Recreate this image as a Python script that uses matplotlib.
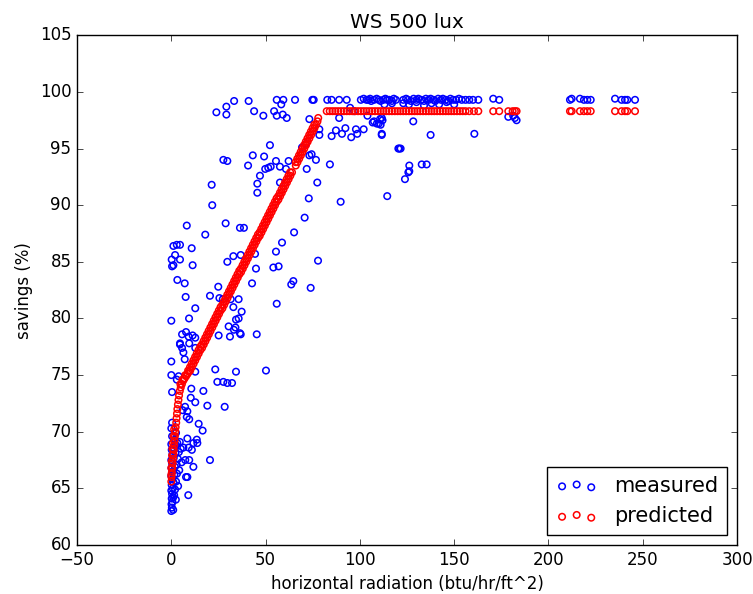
#!/usr/bin/env python3
# WS 500 lux: measured vs predicted savings

import matplotlib
matplotlib.use("Agg")
import matplotlib.pyplot as plt
import numpy as np

# measured points (radiation, savings %)
meas_x = [
    0.0, 0.3, 0.1, 0.6, 0.2, 1.0, 0.4, 1.5, 0.0, 0.8, 2.0, 0.2, 1.2, 0.5, 2.5, 0.0, 1.6, 0.7, 3.0, 0.1,
    1.9, 0.4, 2.8, 0.0, 1.3, 3.5, 0.6, 2.2, 0.2, 4.0, 1.1, 0.0, 2.6, 5.0, 3.2, 1.8, 4.5, 0.4, 2.4, 3.6,
    4.2, 5.5, 1.0,
    9.0, 7.8, 8.5, 11.7, 20.5, 7.4, 9.5, 6.4, 9.2, 10.9, 8.5, 13.5, 11.7, 13.8, 0.4, 0.0, 2.5, 14.5, 16.6,
    7.3, 8.5, 8.2, 9.5, 6.0, 10.6, 17.0, 10.3, 12.7, 19.1, 28.3, 0.4, 0.0, 2.9, 3.9, 12.7, 23.3, 34.3,
    50.2, 24.4, 27.6, 29.7, 32.2, 0.0, 5.7, 7.8, 9.2, 11.3, 12.7, 4.6, 5.7, 6.4, 7.1, 4.6, 9.5, 12.7,
    0.0, 9.4, 12.7, 7.6, 3.2, 7.1, 20.5, 24.9, 25.5, 27.3, 31.5, 35.7, 32.9, 37.3, 34.3, 35.7, 30.4,
    33.2, 36.4, 31.1, 36.8, 45.3, 25.1, 34.0, 42.8, 55.9, 73.9, 64.7, 63.6, 77.8, 54.1, 56.9, 44.4,
    44.9, 32.9, 36.8, 29.7, 55.5, 58.7, 2.0, 0.2, 4.6, 0.4, 1.1, 11.3, 10.8, 1.1, 2.9, 4.6, 18.0, 65.1,
    8.2, 28.8, 36.4, 38.5, 70.7, 72.9, 89.8, 114.5, 21.4, 21.7, 77.4, 45.6, 45.6, 47.0, 57.6,
    33.3, 29.2, 23.9, 29.2, 41.0, 43.9, 48.8, 55.9, 59.4, 58.3, 54.5, 55.9, 59.1, 61.2, 65.6, 74.8,
    75.5, 73.2, 82.7, 85.0, 89.0, 93.0, 94.8, 96.9, 89.0, 87.3, 90.5, 92.3, 95.4, 98.6, 97.9, 85.0,
    78.5, 78.5, 106.8, 110.7, 110.0, 111.6, 120.4, 52.3, 27.6, 29.7, 43.2, 49.2, 40.7, 55.5, 62.2,
    52.7, 49.8, 51.4, 57.6, 60.8, 71.4, 69.3, 73.2, 76.7, 71.8, 74.4, 84.1,
    100.5, 102.0, 103.5, 104.5, 105.4, 106.0, 107.5, 108.9, 110.0, 111.0, 112.4, 113.5, 114.5, 115.6,
    117.0, 118.0, 119.1, 123.0, 124.5, 125.5, 127.0, 128.5, 130.0, 131.0, 132.5, 134.0, 135.0, 136.5,
    137.5, 139.0, 140.0, 141.5, 143.0, 144.0, 145.5, 147.0, 148.0, 149.5, 151.0, 152.5, 154.0, 156.0,
    158.0, 160.0, 162.8, 170.7, 173.9, 211.4, 212.3, 216.7, 218.8, 220.6, 222.4, 235.3, 238.8, 240.6,
    241.8, 245.9,
    123.0, 126.0, 130.0, 134.0, 138.0, 142.0, 146.0, 150.0, 113.0, 117.0,
    111.6, 111.0, 111.6, 128.3, 137.5, 160.7, 120.9, 121.6, 126.2, 126.2, 125.7, 123.9, 132.8, 135.4,
    178.7, 181.3, 182.2, 183.1, 107.5, 109.0, 112.0, 102.0, 104.0,
]
meas_y = [
    63.0, 63.3, 63.6, 63.8, 64.1, 64.2, 64.5, 64.4, 64.8, 65.0, 64.9, 65.3, 65.5, 65.8, 65.6, 66.1, 66.2,
    66.5, 66.3, 66.8, 66.9, 67.2, 67.1, 67.5, 67.7, 67.6, 68.0, 68.1, 68.4, 68.2, 68.6, 68.9, 68.8, 68.5,
    69.0, 69.3, 69.1, 69.6, 64.0, 65.2, 66.6, 67.3, 63.1,
    64.4, 66.0, 66.0, 66.9, 67.5, 67.5, 67.5, 68.6, 68.6, 68.4, 69.4, 69.3, 69.0, 69.0, 70.8, 70.3, 69.9,
    70.7, 70.1, 72.2, 71.8, 71.3, 71.1, 71.9, 73.8, 73.6, 73.0, 72.6, 72.3, 72.2, 73.5, 75.0, 74.6, 74.9,
    75.3, 75.5, 75.3, 75.4, 74.4, 74.4, 74.3, 74.3, 76.2, 78.6, 78.8, 78.4, 78.5, 78.3, 77.7, 77.4, 77.0,
    76.4, 77.8, 77.8, 77.4, 79.8, 80.0, 80.9, 81.9, 83.4, 83.1, 82.0, 82.8, 81.8, 81.7, 81.7, 81.7, 81.0,
    80.6, 79.9, 80.0, 79.3, 79.0, 78.7, 78.4, 78.6, 78.6, 78.5, 79.2, 83.1, 81.3, 82.7, 83.3, 83.0, 85.1,
    84.5, 84.6, 85.7, 84.4, 85.5, 85.6, 85.0, 85.9, 86.7, 85.6, 85.2, 85.2, 84.6, 84.7, 84.7, 86.2, 86.4,
    86.5, 86.5, 87.4, 87.6, 88.2, 88.4, 88.0, 88.0, 88.9, 90.6, 90.3, 90.8, 91.8, 90.0, 92.0, 91.9, 91.1,
    92.6, 92.0,
    99.2, 98.7, 98.2, 98.0, 99.2, 98.3, 97.9, 99.3, 99.3, 98.9, 98.3, 97.9, 98.0, 97.7, 99.3, 99.3, 99.3,
    97.6, 99.3, 99.3, 99.3, 99.3, 98.6, 98.3, 97.7, 96.6, 96.3, 96.8, 96.0, 96.3, 96.7, 96.1, 96.7, 96.2,
    97.3, 97.6, 97.2, 96.3, 95.0, 95.3, 94.0, 93.9, 94.4, 94.3, 93.5, 93.9, 93.9, 93.4, 93.2, 93.3, 93.4,
    93.2, 95.4, 95.1, 94.4, 94.0, 93.2, 94.5, 93.6,
    99.3, 99.4, 99.3, 99.3, 99.4, 99.2, 99.3, 99.4, 99.3, 99.2, 99.3, 99.4, 99.3, 99.3,
    99.2, 99.4, 99.3, 99.3, 99.4, 99.3, 99.2, 99.4, 99.3, 99.4, 99.3, 99.2, 99.4, 99.3,
    99.4, 99.3, 99.2, 99.4, 99.3, 99.4, 99.3, 99.2, 99.4, 99.3, 99.3, 99.4, 99.3, 99.3,
    99.3, 99.3, 99.3, 99.4, 99.3, 99.3, 99.4, 99.4, 99.3, 99.3, 99.3, 99.4, 99.3, 99.3,
    99.3, 99.3,
    99.0, 98.9, 99.1, 98.8, 99.0, 98.9, 99.1, 98.9, 98.9, 99.0,
    97.7, 97.1, 96.2, 97.4, 96.2, 96.3, 95.0, 95.0, 93.5, 93.0, 92.9, 92.3, 93.6, 93.6,
    97.8, 97.9, 97.7, 97.5, 97.4, 97.2, 97.5, 96.7, 97.9,
]

# predicted: rising part (two interleaved runs) and the flat part
pred_curve_x = [
    0.0, 0.1, 0.3, 0.5, 0.7, 0.9, 1.1, 1.3, 1.5, 1.7, 1.9, 2.1, 2.3, 2.6, 2.8, 3.0, 3.2, 3.5, 3.8, 4.1,
    4.5, 5.0, 5.6, 6.3, 7.0, 7.8, 8.6, 9.3,
    10.0, 10.9, 11.8, 12.7, 13.6, 14.5, 15.4, 16.3, 17.2, 18.1, 19.0, 19.9, 20.8, 21.7, 22.6, 23.5,
    24.4, 25.3, 26.2, 27.1, 28.0, 28.9, 29.8, 30.7, 31.6, 32.5, 33.4, 34.3, 35.2, 36.1, 37.0, 37.9,
    38.8, 39.7, 40.6, 41.5, 42.4, 43.3, 44.2, 45.1, 46.0, 46.9, 47.8, 48.7, 49.6, 50.5, 51.4, 52.3,
    53.2, 54.1, 55.0, 55.9, 56.8, 57.7, 58.6, 59.5, 60.4, 61.3, 62.2, 63.1, 64.0,
    66.0, 66.9, 67.8, 68.7, 69.6, 70.5, 71.4, 72.3, 73.2, 74.1, 75.0, 75.9, 76.8, 77.5, 77.9,
]
pred_curve_y = [
    65.6, 66.0, 66.4, 66.8, 67.2, 67.6, 68.0, 68.4, 68.8, 69.2, 69.6, 70.0, 70.4, 70.8, 71.2, 71.6, 72.0,
    72.4, 72.8, 73.2, 73.6, 73.9, 74.2, 74.5, 74.7, 74.9, 75.1, 75.3,
    75.4, 75.7, 76.0, 76.3, 76.6, 76.9, 77.2, 77.4, 77.7, 78.0, 78.3, 78.6, 78.9, 79.2, 79.5, 79.8,
    80.1, 80.4, 80.7, 80.9, 81.2, 81.5, 81.8, 82.1, 82.4, 82.7, 83.0, 83.3, 83.6, 83.9, 84.1, 84.4,
    84.7, 85.0, 85.3, 85.6, 85.9, 86.2, 86.5, 86.8, 87.1, 87.3, 87.6, 87.9, 88.2, 88.5, 88.8, 89.1,
    89.4, 89.7, 90.0, 90.3, 90.5, 90.8, 91.1, 91.4, 91.7, 92.0, 92.3, 92.6, 92.9,
    93.5, 93.8, 94.1, 94.4, 94.7, 95.0, 95.3, 95.6, 95.9, 96.2, 96.5, 96.8, 97.1, 97.4, 97.7,
]
pred_mid_x = [
    0.0, 0.0, 0.2, 0.4, 0.6, 0.9, 1.2, 1.5, 4.8, 5.9, 7.4, 8.9,
    9.9, 10.8, 11.7, 12.6, 13.5, 14.4, 15.3, 16.2, 17.1, 18.0, 18.9, 19.8, 20.7, 21.6, 22.5, 23.4,
    24.3, 25.2, 26.1, 27.0, 27.9, 28.8, 29.7, 30.6, 31.5, 32.4, 33.3, 34.2, 35.1, 36.0, 36.9, 37.8,
    38.7, 39.6, 40.5, 41.4, 42.3, 43.2, 44.1, 45.0, 45.9, 46.8, 47.7, 48.6, 49.5, 50.4, 51.3, 52.2,
    53.1, 54.0, 54.9, 55.8, 56.7, 57.6, 58.5, 59.4, 60.3, 61.2, 62.1, 63.0,
    65.9, 66.8, 67.7, 68.6, 69.5, 70.4, 71.3, 72.2, 73.1, 74.0, 74.9, 75.8,
]
pred_mid_y = [
    66.2, 66.8, 67.4, 67.9, 68.5, 69.0, 69.6, 70.2, 74.2, 74.6, 75.0, 75.4,
    75.7, 76.0, 76.3, 76.6, 76.9, 77.2, 77.5, 77.7, 78.0, 78.3, 78.6, 78.9, 79.2, 79.5, 79.8, 80.1,
    80.4, 80.7, 81.0, 81.2, 81.5, 81.8, 82.1, 82.4, 82.7, 83.0, 83.3, 83.6, 83.9, 84.2, 84.4, 84.7,
    85.0, 85.3, 85.6, 85.9, 86.2, 86.5, 86.8, 87.1, 87.4, 87.6, 87.9, 88.2, 88.5, 88.8, 89.1, 89.4,
    89.7, 90.0, 90.3, 90.6, 90.8, 91.1, 91.4, 91.7, 92.0, 92.3, 92.6, 92.9,
    93.8, 94.1, 94.4, 94.7, 95.0, 95.3, 95.6, 95.9, 96.2, 96.5, 96.8, 97.1,
]
pred_flat_x = [
    82.4, 84.0, 85.5, 87.0, 88.5, 90.0, 91.5, 93.0, 94.5, 96.0, 97.5, 99.0, 100.5, 102.0, 103.5, 105.0,
    106.5, 108.0, 109.5, 111.0, 112.5, 114.0, 115.5, 117.0, 118.5, 120.0, 121.5, 123.0, 124.5, 126.0,
    127.5, 129.0, 130.5, 132.0, 133.5, 135.0, 136.5, 138.0, 139.5, 141.0, 142.5, 144.0, 145.5, 147.0,
    148.5, 150.0, 151.5, 153.0, 154.5, 156.0, 158.0, 160.5, 162.8, 170.7, 173.9, 178.7, 181.0, 182.2,
    183.1, 211.4, 212.3, 216.7, 218.8, 220.6, 222.4, 235.3, 238.8, 240.6, 241.8, 245.9,
]
pred_flat_level = 98.3

pred_x = pred_curve_x + pred_mid_x + pred_flat_x
pred_y = pred_curve_y + pred_mid_y + [pred_flat_level] * len(pred_flat_x)

plt.style.use('classic')
fig = plt.figure(figsize=(7.53, 5.94), dpi=100)
fig.subplots_adjust(left=0.1023, right=0.9788, bottom=0.0825, top=0.9406)
ax = fig.add_subplot(111)

ax.scatter(meas_x, meas_y, s=22, facecolors='none', edgecolors='b', linewidths=1.1, label='measured')
ax.scatter(pred_x, pred_y, s=22, facecolors='none', edgecolors='r', linewidths=1.1, label='predicted')

ax.set_xlim(-50, 300)
ax.set_ylim(60, 105)
ax.set_title('WS 500 lux')
ax.set_xlabel('horizontal radiation (btu/hr/ft^2)')
ax.set_ylabel('savings (%)')
ax.legend(loc='lower right', scatterpoints=3, fontsize=15)

fig.savefig('out.png', dpi=100, facecolor='white')
